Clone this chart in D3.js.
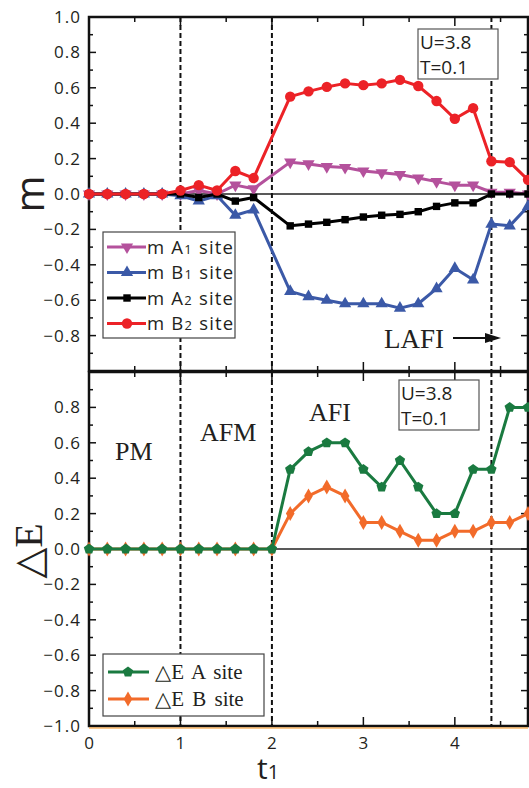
<!DOCTYPE html>
<html>
<head>
<meta charset="utf-8">
<script src="https://cdn.jsdelivr.net/npm/d3@7"></script>
<style>
  body { margin: 0; background: #fff; }
  svg { display: block; }
  .tick-label { font-family: "Open Sans", sans-serif; fill: #231f20; }
  .serif { font-family: "Liberation Serif", "DejaVu Serif", serif; fill: #231f20; }
</style>
</head>
<body>
<div id="chart"></div>
<script>
// t1 values (upper panel has no point at 2.0)
const tTop = [0, 0.2, 0.4, 0.6, 0.8, 1.0, 1.2, 1.4, 1.6, 1.8, 2.2, 2.4, 2.6, 2.8, 3.0, 3.2, 3.4, 3.6, 3.8, 4.0, 4.2, 4.4, 4.6, 4.8];
const tBottom = [0, 0.2, 0.4, 0.6, 0.8, 1.0, 1.2, 1.4, 1.6, 1.8, 2.0, 2.2, 2.4, 2.6, 2.8, 3.0, 3.2, 3.4, 3.6, 3.8, 4.0, 4.2, 4.4, 4.6, 4.8];

const mA1 = [0, 0, 0, 0, 0, 0.0, 0.02, 0.0, 0.05, 0.03, 0.18, 0.17, 0.155, 0.15, 0.13, 0.12, 0.11, 0.09, 0.07, 0.05, 0.05, 0.01, 0.01, 0.0];
const mB1 = [0, 0, 0, 0, 0, -0.01, -0.04, -0.01, -0.12, -0.09, -0.55, -0.58, -0.60, -0.62, -0.62, -0.62, -0.645, -0.62, -0.535, -0.42, -0.485, -0.17, -0.18, -0.07];
const mA2 = [0, 0, 0, 0, 0, 0, -0.02, 0.0, -0.04, -0.02, -0.18, -0.17, -0.16, -0.145, -0.13, -0.12, -0.115, -0.10, -0.07, -0.05, -0.05, 0.0, 0.0, 0.0];
const mB2 = [0, 0, 0, 0, 0, 0.02, 0.05, 0.02, 0.13, 0.09, 0.55, 0.58, 0.605, 0.625, 0.615, 0.625, 0.645, 0.61, 0.525, 0.425, 0.485, 0.185, 0.18, 0.08];

const dEA = [0, 0, 0, 0, 0, 0, 0, 0, 0, 0, 0, 0.45, 0.55, 0.6, 0.6, 0.45, 0.35, 0.5, 0.35, 0.2, 0.2, 0.45, 0.45, 0.8, 0.8];
const dEB = [0, 0, 0, 0, 0, 0, 0, 0, 0, 0, 0, 0.2, 0.3, 0.35, 0.3, 0.15, 0.15, 0.1, 0.05, 0.05, 0.1, 0.1, 0.15, 0.15, 0.2];

const xTicks = [0, 1, 2, 3, 4];
const yTicksTop = [1.0, 0.8, 0.6, 0.4, 0.2, 0.0, -0.2, -0.4, -0.6, -0.8];
const yTicksBottom = [0.8, 0.6, 0.4, 0.2, 0.0, -0.2, -0.4, -0.6, -0.8, -1.0];
const phaseLines = [1, 2, 4.4];

const width = 529;
const height = 788;
const margin = { left: 89, right: 1 };

const svg = d3.select('#chart')
  .append('svg')
  .attr('width', width)
  .attr('height', height);

const x = d3.scaleLinear().domain([0, 4.8]).range([margin.left, width - margin.right]);

const yTop = d3.scaleLinear().domain([-1, 1]).range([371, 17]);
const yBot = d3.scaleLinear().domain([-1, 1]).range([726, 372]);

const symbolPath = (type, size) => d3.symbol().type(type).size(size)();

// inverted triangle
const triDown = {
  draw(context, size) {
    const y = -Math.sqrt(size / (3 * Math.sqrt(3)));
    context.moveTo(0, -y * 2);
    context.lineTo(-Math.sqrt(3) * y, y);
    context.lineTo(Math.sqrt(3) * y, y);
    context.closePath();
  },
};

function pentagon(size) {
  const r = Math.sqrt(size / 2.38);
  const pts = d3.range(5).map((k) => {
    const a = -Math.PI / 2 + k * 2 * Math.PI / 5;
    return [r * Math.cos(a), r * Math.sin(a)];
  });
  return `M${pts.map((p) => p.join(',')).join('L')}Z`;
}

function drawFrame(y, ticksY) {
  const g = svg.append('g');
  const [y0, y1] = y.range(); // bottom, top
  const left = x.range()[0];
  const right = x.range()[1];

  // zero line
  g.append('line')
    .attr('x1', left).attr('x2', right)
    .attr('y1', y(0)).attr('y2', y(0))
    .attr('stroke', '#222').attr('stroke-width', 1.3);

  // dashed phase boundaries
  g.selectAll('.phase')
    .data(phaseLines)
    .enter()
    .append('line')
    .attr('x1', (d) => x(d)).attr('x2', (d) => x(d))
    .attr('y1', y1).attr('y2', y0)
    .attr('stroke', '#111')
    .attr('stroke-width', 2)
    .attr('stroke-dasharray', '5,3');

  // y ticks (every 0.1, major at 0.2)
  d3.range(-10, 11).map((k) => k / 10).forEach((v) => {
    const major = Math.round(v * 10) % 2 === 0;
    const len = major ? 7 : 4;
    g.append('line')
      .attr('x1', left).attr('x2', left + len)
      .attr('y1', y(v)).attr('y2', y(v))
      .attr('stroke', '#111').attr('stroke-width', 1.5);
    g.append('line')
      .attr('x1', right).attr('x2', right - len)
      .attr('y1', y(v)).attr('y2', y(v))
      .attr('stroke', '#111').attr('stroke-width', 1.5);
  });

  // x ticks (every 0.5) on top and bottom
  d3.range(0, 10).map((k) => k / 2).forEach((v) => {
    const major = v % 1 === 0;
    const len = major ? 9 : 5;
    g.append('line')
      .attr('x1', x(v)).attr('x2', x(v))
      .attr('y1', y0).attr('y2', y0 - len)
      .attr('stroke', '#111').attr('stroke-width', 1.5);
    g.append('line')
      .attr('x1', x(v)).attr('x2', x(v))
      .attr('y1', y1).attr('y2', y1 + len)
      .attr('stroke', '#111').attr('stroke-width', 1.5);
  });

  // frame
  g.append('rect')
    .attr('x', left).attr('y', y1)
    .attr('width', right - left).attr('height', y0 - y1)
    .attr('fill', 'none')
    .attr('stroke', '#111')
    .attr('stroke-width', 2.5);

  // y tick labels
  g.selectAll('.ylab')
    .data(ticksY)
    .enter()
    .append('text')
    .attr('class', 'tick-label')
    .attr('x', left - 8)
    .attr('y', (d) => y(d) + 6)
    .attr('text-anchor', 'end')
    .attr('letter-spacing', '1')
    .attr('font-size', 17)
    .text((d) => d3.format('.1f')(d));

  return g;
}

function drawSeries(y, xs, vals, color, marker) {
  const pts = xs.map((t, k) => [t, vals[k]]);
  const line = d3.line().x((d) => x(d[0])).y((d) => y(d[1]));
  svg.append('path')
    .datum(pts)
    .attr('d', line)
    .attr('fill', 'none')
    .attr('stroke', color)
    .attr('stroke-width', 3)
    .attr('stroke-linejoin', 'round');
  svg.append('g')
    .selectAll('path')
    .data(pts)
    .enter()
    .append('path')
    .attr('transform', (d) => `translate(${x(d[0])},${y(d[1])})`)
    .attr('d', marker)
    .attr('fill', color);
}

// ---------- upper panel ----------
drawFrame(yTop, yTicksTop);

const mSeries = [
  { name: 'A', sub: '1', vals: mA1, color: '#b4519c', marker: symbolPath(triDown, 65) },
  { name: 'B', sub: '1', vals: mB1, color: '#3b59a7', marker: symbolPath(d3.symbolTriangle, 65) },
  { name: 'A', sub: '2', vals: mA2, color: '#000000', marker: symbolPath(d3.symbolSquare, 55) },
  { name: 'B', sub: '2', vals: mB2, color: '#ec2227', marker: symbolPath(d3.symbolCircle, 85) },
];

mSeries.forEach((s) => {
  drawSeries(yTop, tTop, s.vals, s.color, s.marker);
});

// upper legend
const leg1 = svg.append('g').attr('transform', 'translate(103,232)');
leg1.append('rect')
  .attr('width', 132).attr('height', 106)
  .attr('fill', '#fff').attr('stroke', '#444').attr('stroke-width', 1.2);
mSeries.forEach((s, k) => {
  const cy = 15 + k * 25.5;
  leg1.append('line')
    .attr('x1', 4).attr('x2', 43).attr('y1', cy).attr('y2', cy)
    .attr('stroke', s.color).attr('stroke-width', 3);
  leg1.append('path')
    .attr('transform', `translate(24,${cy})`)
    .attr('d', s.marker).attr('fill', s.color);
  const t = leg1.append('text')
    .attr('class', 'tick-label')
    .attr('x', 44).attr('y', cy + 6.5)
    .attr('font-size', 18.5)
    .attr('letter-spacing', 1.2);
  t.append('tspan').text(`m ${s.name}`);
  t.append('tspan').attr('font-size', 13).text(s.sub);
  t.append('tspan').text(' site');
});

// parameter boxes
function paramBox(px, py) {
  const g = svg.append('g').attr('transform', `translate(${px},${py})`);
  g.append('rect')
    .attr('width', 80).attr('height', 50)
    .attr('fill', '#fff').attr('stroke', '#555').attr('stroke-width', 1.2);
  g.append('text').attr('class', 'tick-label').attr('x', 2).attr('y', 20)
    .attr('font-size', 19).text('U=3.8');
  g.append('text').attr('class', 'tick-label').attr('x', 2).attr('y', 45)
    .attr('font-size', 19).text('T=0.1');
}
paramBox(418, 29);

// LAFI label with arrow
svg.append('text')
  .attr('class', 'serif')
  .attr('x', 384).attr('y', 348)
  .attr('font-size', 27)
  .text('LAFI');
svg.append('line')
  .attr('x1', 453).attr('x2', 488).attr('y1', 338).attr('y2', 338)
  .attr('stroke', '#111').attr('stroke-width', 2);
svg.append('path')
  .attr('d', 'M485,333 L501,338 L485,343 Z')
  .attr('fill', '#111');

// ---------- lower panel ----------
drawFrame(yBot, yTicksBottom);

// orange line under the bottom axis
svg.append('line')
  .attr('x1', x(0)).attr('x2', x(4.8))
  .attr('y1', yBot(-1) + 2).attr('y2', yBot(-1) + 2)
  .attr('stroke', '#f7941d').attr('stroke-width', 1.2);

const eSeries = [
  { label: 'A', vals: dEA, color: '#1a7a40', marker: pentagon(70) },
  { label: 'B', vals: dEB, color: '#f26b2a', marker: symbolPath(d3.symbolDiamond, 65) },
];
[eSeries[1], eSeries[0]].forEach((s) => {
  drawSeries(yBot, tBottom, s.vals, s.color, s.marker);
});

// lower legend
const leg2 = svg.append('g').attr('transform', 'translate(103,654)');
leg2.append('rect')
  .attr('width', 161).attr('height', 62)
  .attr('fill', '#fff').attr('stroke', '#444').attr('stroke-width', 1.2);
eSeries.forEach((s, k) => {
  const cy = 18 + k * 27;
  leg2.append('line')
    .attr('x1', 5).attr('x2', 46).attr('y1', cy).attr('y2', cy)
    .attr('stroke', s.color).attr('stroke-width', 3);
  leg2.append('path')
    .attr('transform', `translate(25,${cy})`)
    .attr('d', s.marker).attr('fill', s.color);
  leg2.append('text')
    .attr('class', 'serif')
    .attr('x', 52).attr('y', cy + 7)
    .attr('font-size', 21)
    .attr('word-spacing', 3)
    .text(`△E ${s.label} site`);
});

paramBox(399, 380);

// phase labels
[['PM', 115, 460], ['AFM', 200, 441], ['AFI', 309, 421]].forEach(([t, px, py]) => {
  svg.append('text')
    .attr('class', 'serif')
    .attr('x', px).attr('y', py)
    .attr('font-size', 26)
    .text(t);
});

// x tick labels
svg.selectAll('.xlab')
  .data(xTicks)
  .enter()
  .append('text')
  .attr('class', 'tick-label')
  .attr('x', (d) => x(d))
  .attr('y', 749)
  .attr('text-anchor', 'middle')
  .attr('font-size', 17)
  .text((d) => d);

// axis titles
const xt = svg.append('text')
  .attr('x', 268).attr('y', 779)
  .attr('text-anchor', 'middle')
  .attr('font-family', '"Open Sans", sans-serif')
  .attr('fill', '#231f20')
  .attr('font-size', 30);
xt.append('tspan').text('t');
xt.append('tspan').attr('font-size', 20).text('1');

svg.append('text')
  .attr('transform', 'translate(44,194) rotate(-90)')
  .attr('text-anchor', 'middle')
  .attr('font-family', '"Open Sans", sans-serif')
  .attr('fill', '#231f20')
  .attr('font-size', 40)
  .text('m');

svg.append('text')
  .attr('class', 'serif')
  .attr('transform', 'translate(42,551) rotate(-90)')
  .attr('text-anchor', 'middle')
  .attr('font-size', 40)
  .text('△E');
</script>
</body>
</html>
